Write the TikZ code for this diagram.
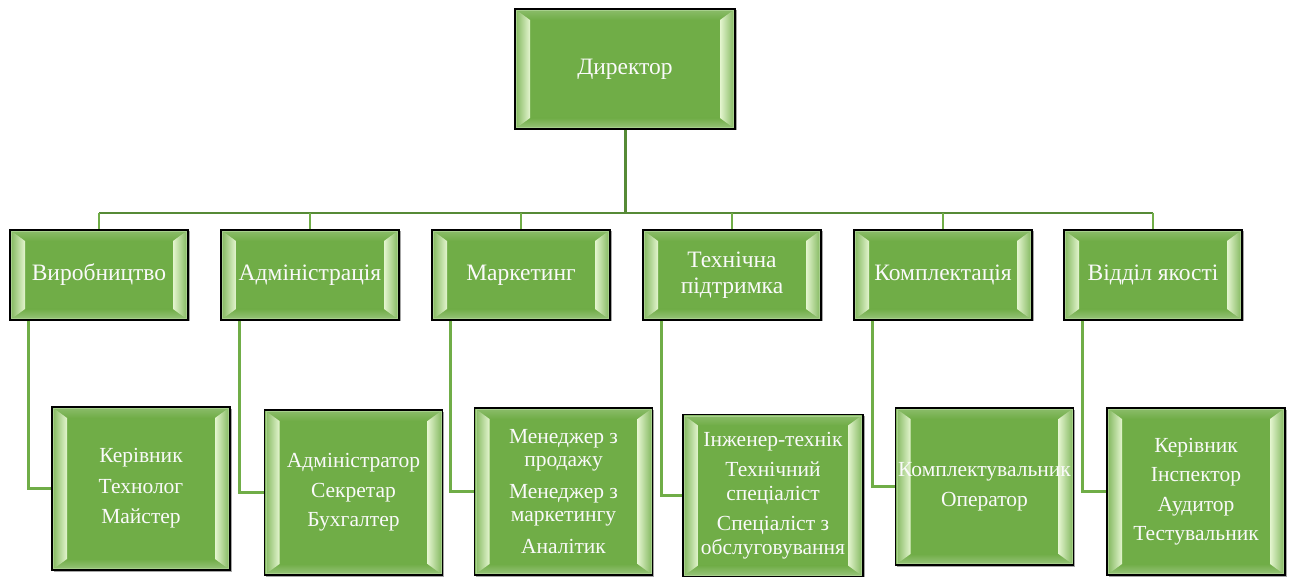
\documentclass[tikz,border=0pt]{standalone}
\usepackage{fontspec}
\setmainfont{Liberation Serif}
\usetikzlibrary{calc,shadows}
\definecolor{boxfill}{HTML}{70AD47}
\definecolor{bevhi}{HTML}{E4F5CF}
\definecolor{rimcol}{HTML}{A8D08D}
\definecolor{darkln}{HTML}{568A36}
\definecolor{lightln}{HTML}{70AD47}
\definecolor{txtcol}{HTML}{FAFAFA}
\tikzset{
  box/.style={draw=black, line width=1.5pt, fill=boxfill, inner sep=0pt, align=center, text=txtcol,
    drop shadow={shadow xshift=1.5pt, shadow yshift=-1.5pt, opacity=0.35, fill=black},
    path picture={
      \coordinate (SW) at (path picture bounding box.south west);
      \coordinate (NE) at (path picture bounding box.north east);
      \coordinate (NW) at (SW |- NE);
      \coordinate (SE) at (NE |- SW);
      \coordinate (iSW) at ($(SW)+(15pt,11pt)$);
      \coordinate (iNE) at ($(NE)+(-15pt,-11pt)$);
      \coordinate (iNW) at (iSW |- iNE);
      \coordinate (iSE) at (iNE |- iSW);
      \shade[top color=boxfill!80!white, bottom color=boxfill] (NW) -- (NE) -- (iNE) -- (iNW) -- cycle;
      \shade[top color=boxfill, bottom color=boxfill!70!white] (SW) -- (SE) -- (iSE) -- (iSW) -- cycle;
      \shade[left color=boxfill!90!white, right color=bevhi] (SW) -- (NW) -- (iNW) -- (iSW) -- cycle;
      \shade[left color=bevhi, right color=boxfill!90!white] (SE) -- (NE) -- (iNE) -- (iSE) -- cycle;
      \draw[rimcol, line width=1pt] ($(SW)+(1.5pt,1.5pt)$) rectangle ($(NE)+(-1.5pt,-1.5pt)$);
    }},
  dirbox/.style={box, minimum width=220pt, minimum height=120pt, font=\fontsize{23.5}{26}\selectfont},
  lvlone/.style={box, minimum width=178pt, minimum height=90pt, font=\fontsize{23.5}{26}\selectfont},
  lvltwo/.style={box, minimum width=178pt, font=\fontsize{21.5}{23.5}\selectfont},
  trunk/.style={draw=darkln, line width=3pt},
  bus/.style={draw=darkln, line width=2.5pt},
  drop/.style={draw=lightln, line width=2pt},
  conn/.style={draw=lightln, line width=2.5pt}
}
\begin{document}
\begin{tikzpicture}[x=1pt, y=-1pt]
\useasboundingbox (0,0) rectangle (1291,577);
\coordinate (busY) at (0,213);
\node[dirbox] (dir) at (625,69) {Директор};
\node[lvlone] (t1) at (99,275) {Виробництво};
\node[lvlone] (t2) at (310,275) {Адміністрація};
\node[lvlone] (t3) at (521,275) {Маркетинг};
\node[lvlone] (t4) at (732,275) {Технічна\\підтримка};
\node[lvlone] (t5) at (943,275) {Комплектація};
\node[lvlone] (t6) at (1153,275) {Відділ якості};
\node[lvltwo, minimum height=163pt] (c1) at (141,488.5) {Керівник\\[7pt]Технолог\\[7pt]Майстер};
\node[lvltwo, minimum height=165pt] (c2) at (353.5,492.5) {Адміністратор\\[6pt]Секретар\\[6pt]Бухгалтер};
\node[lvltwo, minimum height=167pt] (c3) at (563.5,491.5) {Менеджер з\\продажу\\[8pt]Менеджер з\\маркетингу\\[8pt]Аналітик};
\node[lvltwo, minimum height=162pt, minimum width=180pt] (c4) at (773,495.5) {Інженер-технік\\[7pt]Технічний\\спеціаліст\\[7pt]Спеціаліст з\\обслуговування};
\node[lvltwo, minimum height=157pt] (c5) at (984.5,486.5) {Комплектувальник\\[7pt]Оператор};
\node[lvltwo, minimum height=167pt] (c6) at (1196,491.5) {Керівник\\[6pt]Інспектор\\[6pt]Аудитор\\[6pt]Тестувальник};
\draw[trunk] (dir.south) -- (dir.south |- busY);
\draw[bus] (t1.north |- busY) -- (t6.north |- busY);
\foreach \t in {t1,t2,t3,t4,t5,t6}{
  \draw[drop] (\t.north |- busY) -- (\t.north);
}
\draw[conn] ($(t1.south west)+(19pt,0pt)$) |- (c1.west);
\draw[conn] ($(t2.south west)+(19pt,0pt)$) |- (c2.west);
\draw[conn] ($(t3.south west)+(19pt,0pt)$) |- (c3.west);
\draw[conn] ($(t4.south west)+(19pt,0pt)$) |- (c4.west);
\draw[conn] ($(t5.south west)+(19pt,0pt)$) |- (c5.west);
\draw[conn] ($(t6.south west)+(19pt,0pt)$) |- (c6.west);
\end{tikzpicture}
\end{document}
